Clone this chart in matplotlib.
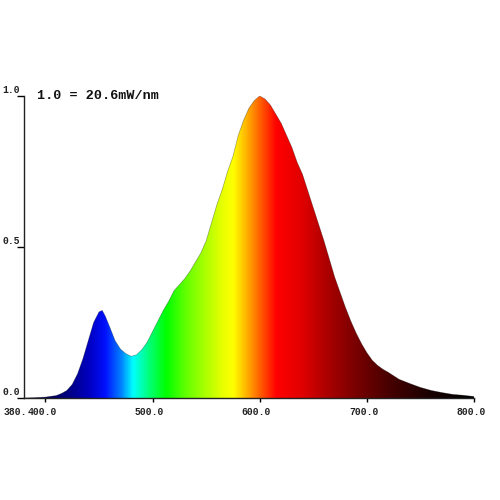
import numpy as np
import matplotlib
matplotlib.use("Agg")
import matplotlib.pyplot as plt
from matplotlib.colors import LinearSegmentedColormap

wavelength = [380, 390, 400, 410, 415, 420, 425, 430, 435, 440, 445, 450, 453, 456, 460,
              465, 470, 475, 480, 485, 490, 495, 500, 505, 510, 515, 520, 525, 530, 535,
              540, 545, 550, 555, 560, 565, 570, 575, 580, 585, 590, 595, 600, 605, 610,
              615, 620, 625, 630, 635, 640, 645, 650, 655, 660, 665, 670, 675, 680, 685,
              690, 695, 700, 705, 710, 715, 720, 730, 740, 750, 760, 770, 780, 790, 800]
intensity = [0.0, 0.001, 0.003, 0.008, 0.015, 0.025, 0.045, 0.08, 0.13, 0.19, 0.25, 0.285,
             0.29, 0.27, 0.235, 0.19, 0.162, 0.147, 0.138, 0.143, 0.16, 0.185, 0.22, 0.255,
             0.29, 0.32, 0.355, 0.375, 0.395, 0.42, 0.45, 0.48, 0.52, 0.58, 0.64, 0.69, 0.75,
             0.80, 0.87, 0.92, 0.96, 0.985, 1.0, 0.99, 0.97, 0.94, 0.91, 0.87, 0.83, 0.78,
             0.74, 0.685, 0.63, 0.575, 0.52, 0.46, 0.40, 0.35, 0.30, 0.255, 0.215, 0.18, 0.15,
             0.125, 0.108, 0.095, 0.085, 0.062, 0.048, 0.035, 0.025, 0.018, 0.012, 0.009, 0.005]

x_ticks = [400, 500, 600, 700, 800]
x_tick_labels = ["400.0", "500.0", "600.0", "700.0", "800.0"]
x_start_label = "380."
y_ticks = [0.0, 0.5, 1.0]
y_tick_labels = ["0.0", "0.5", "1.0"]
title_text = "1.0 = 20.6mW/nm"

color_stops = [(380, "#000030"), (420, "#000080"), (440, "#0000c0"), (455, "#0010ff"),
               (470, "#0080ff"), (481, "#00ffff"), (495, "#00ff80"), (512, "#00ff00"),
               (530, "#60ff00"), (550, "#b0ff00"), (565, "#e8ff00"), (575, "#ffff00"),
               (585, "#ffc000"), (595, "#ff8000"), (605, "#ff4000"), (615, "#ff0000"),
               (640, "#e00000"), (660, "#b00000"), (690, "#780000"), (720, "#480000"),
               (760, "#180000"), (800, "#000000")]

lo, hi = 380, 800
cmap = LinearSegmentedColormap.from_list(
    "spec", [((w - lo) / (hi - lo), c) for w, c in color_stops])

mono = ["Liberation Mono", "DejaVu Sans Mono"]
tick_fs = 7

fig = plt.figure(figsize=(5, 5), dpi=100)
ax = fig.add_axes([0.048, 0.204, 0.9, 0.604])

poly = ax.fill_between(wavelength, intensity, 0, color="none", lw=0)
grad = np.linspace(0, 1, 1200).reshape(1, -1)
im = ax.imshow(grad, extent=[lo, hi, 0, 1.0], aspect="auto", cmap=cmap,
               origin="lower", interpolation="bilinear", zorder=1)
path = poly.get_paths()[0]
im.set_clip_path(path, transform=ax.transData)
ax.plot(wavelength, intensity, color="black", lw=0.5, alpha=0.35, zorder=2)

ax.set_xlim(lo, hi)
ax.set_ylim(0, 1.0)
for s in ["top", "right"]:
    ax.spines[s].set_visible(False)
for s in ["left", "bottom"]:
    ax.spines[s].set_linewidth(1.0)
    ax.spines[s].set_color("#222222")

ax.set_xticks(x_ticks)
ax.set_xticklabels([])
ax.set_yticks(y_ticks)
ax.set_yticklabels([])
ax.tick_params(axis="x", direction="out", length=3, width=1)
ax.tick_params(axis="y", direction="out", length=5, width=1)

label_y = -0.045
for xt, lab in zip(x_ticks, x_tick_labels):
    t = ax.text(xt - 3, label_y, lab, ha="center", va="center", fontsize=tick_fs,
                family=mono, weight="bold", color="#222222")
    if xt == 400:
        first = t
# the partly hidden start label, placed just left of "400.0"
ax.annotate(x_start_label, xy=(0, 0.5), xycoords=first, ha="right", va="center",
            fontsize=tick_fs, family=mono, weight="bold", color="#222222")

for yt, lab in zip(y_ticks, y_tick_labels):
    ax.annotate(lab, xy=(0, yt), xycoords=("axes fraction", "data"),
                xytext=(-3, 1), textcoords="offset points", ha="right", va="bottom",
                fontsize=tick_fs, family=mono, weight="bold", color="#222222")

ax.text(0.028, 1.0, title_text, transform=ax.transAxes, ha="left", va="center",
        fontsize=9.7, family=mono, weight="bold", color="#111111")

fig.savefig("out.png", dpi=100)
